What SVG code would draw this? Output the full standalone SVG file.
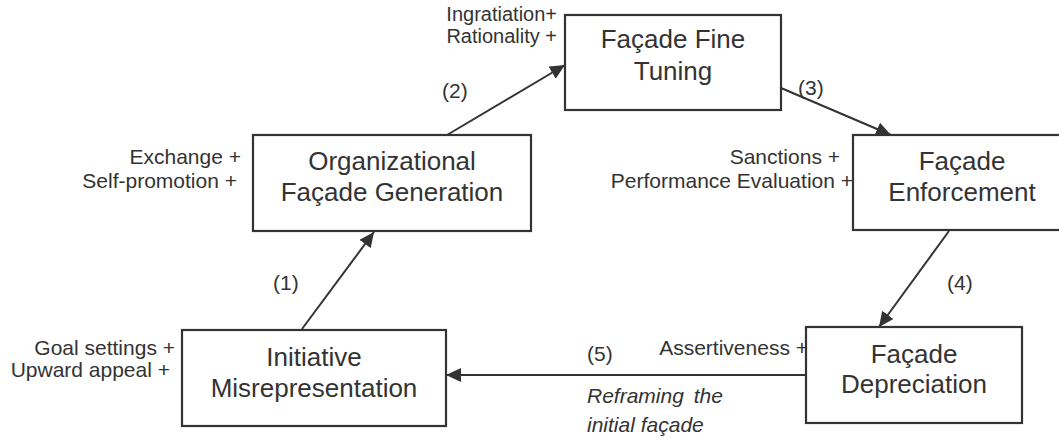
<svg xmlns="http://www.w3.org/2000/svg" width="1059" height="438" viewBox="0 0 1059 438">
<style>
.box{fill:#fff;stroke:#333;stroke-width:2.2}
.t{font-family:"Liberation Sans",Arial,sans-serif;font-size:26px;fill:#333;text-anchor:middle}
.s{font-family:"Liberation Sans",Arial,sans-serif;font-size:21px;fill:#333;text-anchor:end}
.n{font-family:"Liberation Sans",Arial,sans-serif;font-size:21px;fill:#333}
.i{font-family:"Liberation Sans",Arial,sans-serif;font-size:21px;fill:#333;font-style:italic}
.c{stroke:#333;stroke-width:2;fill:none;marker-end:url(#ah)}
</style>
<defs>
<marker id="ah" markerWidth="15" markerHeight="14" refX="15" refY="7" orient="auto" markerUnits="userSpaceOnUse">
<path d="M0,0 L15,7 L0,14 Z" fill="#333"/>
</marker>
</defs>
<rect width="1059" height="438" fill="#fff"/>
<g id="connectors">
<line class="c" x1="302" y1="329" x2="374" y2="232"/>
<line class="c" x1="447" y1="135" x2="565" y2="65"/>
<line class="c" x1="781" y1="88" x2="891" y2="135"/>
<line class="c" x1="949" y1="231" x2="879" y2="327"/>
<line class="c" x1="806" y1="375" x2="446" y2="375"/>
<text class="n" x="273" y="290">(1)</text>
<text class="n" x="442" y="98">(2)</text>
<text class="n" x="798" y="95">(3)</text>
<text class="n" x="947" y="290">(4)</text>
<text class="n" x="587" y="361">(5)</text>
<text class="i" x="587" y="403" word-spacing="4">Reframing the</text>
<text class="i" x="587" y="432">initial façade</text>
</g>
<g id="fine-tuning">
<rect class="box" x="565" y="15" width="216" height="95"/>
<text class="t" x="673" y="48">Façade Fine</text>
<text class="t" x="673" y="80">Tuning</text>
<text class="s" x="557" y="21" style="font-size:20px">Ingratiation+</text>
<text class="s" x="557" y="43" style="font-size:20px">Rationality +</text>
</g>
<g id="generation">
<rect class="box" x="253" y="135" width="278" height="96"/>
<text class="t" x="392" y="170">Organizational</text>
<text class="t" x="392" y="201">Façade Generation</text>
<text class="s" x="241" y="164">Exchange +</text>
<text class="s" x="237" y="188">Self-promotion +</text>
</g>
<g id="enforcement">
<rect class="box" x="853" y="135" width="218" height="95"/>
<text class="t" x="962" y="170">Façade</text>
<text class="t" x="962" y="201">Enforcement</text>
<text class="s" x="840" y="164">Sanctions +</text>
<text class="s" x="853" y="188">Performance Evaluation +</text>
</g>
<g id="misrepresentation">
<rect class="box" x="182" y="330" width="264" height="96"/>
<text class="t" x="314" y="366">Initiative</text>
<text class="t" x="314" y="397">Misrepresentation</text>
<text class="s" x="175" y="355">Goal settings +</text>
<text class="s" x="170" y="377">Upward appeal +</text>
</g>
<g id="depreciation">
<rect class="box" x="806" y="327" width="216" height="96"/>
<text class="t" x="914" y="363">Façade</text>
<text class="t" x="914" y="393">Depreciation</text>
<text class="s" x="808" y="355">Assertiveness +</text>
</g>
</svg>
